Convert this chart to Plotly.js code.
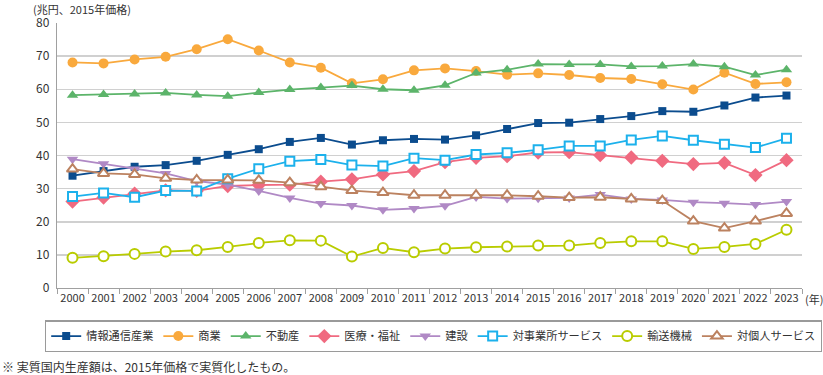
<!DOCTYPE html>
<html>
<head>
<meta charset="utf-8">
<script src="https://cdn.plot.ly/plotly-3.0.1.min.js"></script>
<style>
html,body{margin:0;padding:0;background:#fff;}
#chart{width:823px;height:375px;}
</style>
</head>
<body>
<div id="chart"></div>
<script>
const years = ['2000','2001','2002','2003','2004','2005','2006','2007','2008','2009','2010','2011','2012','2013','2014','2015','2016','2017','2018','2019','2020','2021','2022','2023'];

const seriesNames = ['情報通信産業','商業','不動産','医療・福祉','建設','対事業所サービス','輸送機械','対個人サービス'];

const infoComm   = [33.9,35.3,36.6,37.1,38.4,40.2,41.9,44.1,45.3,43.3,44.6,45.0,44.8,46.1,48.0,49.8,49.9,51.0,51.9,53.4,53.2,55.1,57.5,58.1];
const commerce   = [68.1,67.8,69.0,69.8,72.1,75.1,71.7,68.1,66.5,61.8,63.0,65.7,66.3,65.5,64.4,64.8,64.3,63.4,63.1,61.5,59.9,65.0,61.6,62.1];
const realEstate = [58.2,58.4,58.6,58.9,58.3,57.9,59.0,59.9,60.5,61.1,60.0,59.7,61.2,64.9,65.9,67.6,67.5,67.5,66.9,67.0,67.6,66.8,64.3,65.9];
const medical    = [26.1,27.3,28.5,29.5,29.3,30.8,31.1,31.2,32.1,32.8,34.3,35.3,38.0,39.3,39.8,40.9,41.0,40.1,39.4,38.4,37.4,37.8,34.1,38.6];
const construct  = [38.9,37.5,35.9,34.6,32.3,31.2,29.3,27.2,25.5,24.9,23.6,24.0,24.8,27.5,27.0,27.1,27.2,28.2,26.9,26.6,25.9,25.6,25.2,26.1];
const bizService = [27.6,28.7,27.4,29.4,29.3,33.0,36.0,38.3,38.8,37.1,36.8,39.2,38.6,40.3,40.8,41.7,42.9,42.9,44.7,45.9,44.6,43.4,42.4,45.2];
const transport  = [9.1,9.6,10.3,11.0,11.4,12.4,13.6,14.4,14.3,9.5,12.1,10.8,11.9,12.3,12.5,12.8,12.8,13.6,14.1,14.1,11.8,12.4,13.3,17.6];
const persService= [35.9,34.6,34.3,33.1,32.6,32.6,32.5,31.8,30.6,29.4,28.8,28.0,28.0,28.0,28.0,27.7,27.3,27.4,26.9,26.4,20.2,18.1,20.2,22.5];

const yTicks = [0,10,20,30,40,50,60,70,80];

const FONT = '"Noto Sans CJK JP", "Noto Sans", sans-serif';
const TXT = '#333333';

function mk(name, y, color, symbol, size, open){
  return {
    type:'scatter', mode:'lines+markers', name:name, x:years, y:y,
    line:{color:color, width:1.8},
    marker: open
      ? {symbol:symbol, size:size, color:'#ffffff', line:{color:color, width:2}}
      : {symbol:symbol, size:size, color:color, line:{width:0}},
    cliponaxis:false
  };
}

const data = [
  mk(seriesNames[0], infoComm,   '#0b4c8e', 'square', 8, false),
  mk(seriesNames[1], commerce,   '#f9a93d', 'circle', 10, false),
  mk(seriesNames[2], realEstate, '#5cb46a', 'triangle-up', 10, false),
  mk(seriesNames[3], medical,    '#f06a80', 'diamond', 11, false),
  mk(seriesNames[4], construct,  '#b089c5', 'triangle-down', 10, false),
  mk(seriesNames[5], bizService, '#1cb1ec', 'square', 9, true),
  mk(seriesNames[6], transport,  '#b9cc00', 'circle', 10, true),
  mk(seriesNames[7], persService,'#bc8260', 'triangle-up', 10, true)
];

const layout = {
  width:823, height:375,
  margin:{l:57, r:21, t:23, b:87},
  paper_bgcolor:'#ffffff', plot_bgcolor:'#ffffff',
  font:{family:FONT, color:TXT, size:12},
  showlegend:true,
  legend:{
    orientation:'h', x:(45-57)/745, xanchor:'left', y:-0.122, yanchor:'top',
    bordercolor:'#9a9a9a', borderwidth:1.2,
    font:{family:FONT, size:11.2, color:TXT},
    itemwidth:30, tracegroupgap:0, traceorder:'normal'
  },
  xaxis:{
    type:'category', range:[-0.5, 23.5],
    showgrid:false, showline:true, linecolor:'#a0a0a0', linewidth:1.2,
    ticks:'outside', tickson:'boundaries', ticklen:5, tickcolor:'#a0a0a0', tickwidth:1,
    tickangle:0,
    tickfont:{family:FONT, size:11, color:TXT},
    zeroline:false, fixedrange:true
  },
  yaxis:{
    range:[0,80], tickvals:yTicks, ticktext:yTicks.map(String),
    showgrid:true, gridcolor:'#d0d0d0', gridwidth:1.5,
    showline:true, linecolor:'#a0a0a0', linewidth:1.2,
    ticks:'', zeroline:false,
    tickfont:{family:FONT, size:12, color:TXT}, ticklabelstandoff:4,
    fixedrange:true
  },
  annotations:[
    {text:'(兆円、2015年価格)', xref:'paper', yref:'paper', x:-0.034, y:1+23/265, xanchor:'left', yanchor:'top', borderpad:0, showarrow:false, font:{family:FONT, size:11, color:TXT}},
    {text:'(年)', xref:'paper', yref:'paper', x:1, y:0, xanchor:'left', yanchor:'middle', xshift:1, yshift:-11, showarrow:false, font:{family:FONT, size:11, color:TXT}},
    {text:'※ 実質国内生産額は、2015年価格で実質化したもの。', xref:'paper', yref:'paper', x:-57/745, y:(287.7-366)/265, xanchor:'left', yanchor:'middle', showarrow:false, font:{family:FONT, size:12, color:TXT}},
    {text:String(infoComm[0]), xref:'x', yref:'y', x:years[0], y:infoComm[0], xanchor:'center', yanchor:'middle', yshift:-12, showarrow:false, font:{family:FONT, size:13, color:TXT}},
    {text:String(infoComm[23]), xref:'x', yref:'y', x:years[23], y:infoComm[23], xanchor:'center', yanchor:'middle', yshift:-12, showarrow:false, font:{family:FONT, size:13, color:TXT}}
  ]
};

Plotly.newPlot('chart', data, layout, {displayModeBar:false, staticPlot:true});
</script>
</body>
</html>
